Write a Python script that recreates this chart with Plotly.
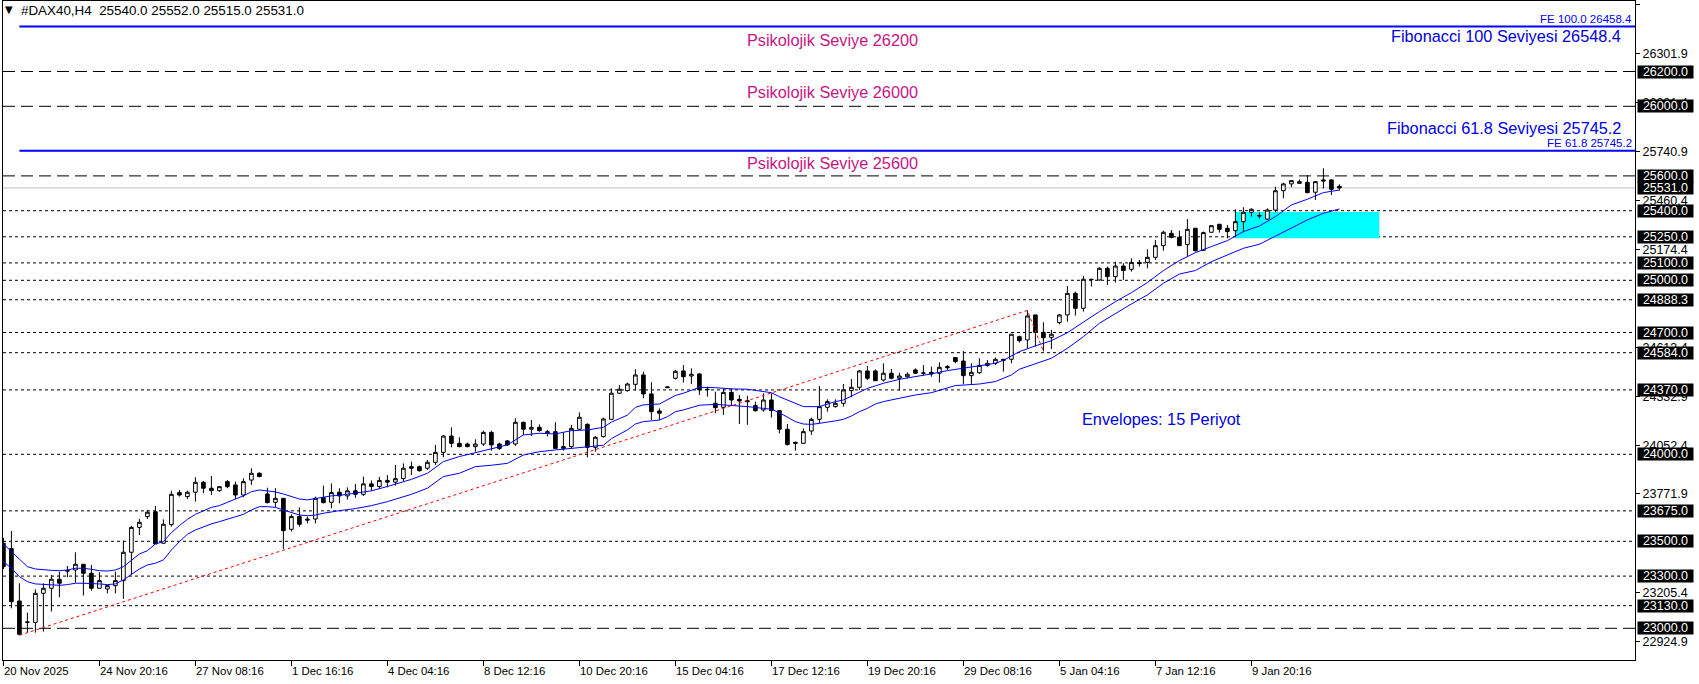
import plotly.graph_objects as go

# ---------------- data ----------------
bar_idx = list(range(168))
opens = [23489, 23458, 23157, 23034, 23034, 23201, 23230, 23282, 23328, 23335,
         23368, 23316, 23230, 23226, 23245, 23274, 23437, 23580, 23642, 23670,
         23489, 23596, 23780, 23757, 23782, 23839, 23805, 23791, 23843, 23824,
         23766, 23852, 23891, 23772, 23724, 23747, 23569, 23642, 23628, 23628,
         23751, 23724, 23782, 23761, 23790, 23770, 23830, 23815, 23850, 23840,
         23860, 23929, 23929, 23920, 23954, 24011, 24105, 24063, 24059, 24044,
         24059, 24126, 24059, 24077, 24059, 24184, 24144, 24155, 24121, 24130,
         24034, 24044, 24144, 24172, 24040, 24102, 24201, 24351, 24366, 24402,
         24456, 24347, 24249, 24383, 24437, 24479, 24450, 24462, 24374, 24293,
         24270, 24356, 24316, 24308, 24280, 24255, 24312, 24251, 24144, 24069,
         24063, 24134, 24201, 24270, 24274, 24293, 24366, 24385, 24479, 24479,
         24427, 24466, 24437, 24446, 24485, 24466, 24471, 24466, 24504, 24556,
         24536, 24452, 24469, 24510, 24523, 24546, 24546, 24676, 24657, 24801,
         24701, 24672, 24757, 24801, 24925, 24839, 25006, 25002, 25069, 25021,
         25082, 25063, 25103, 25103, 25132, 25199, 25270, 25247, 25205, 25299,
         25172, 25276, 25322, 25299, 25285, 25337, 25391, 25372, 25352, 25404,
         25515, 25554, 25557, 25563, 25506, 25577, 25577, 25540]
highs = [23520, 23559, 23259, 23090, 23224, 23259, 23307, 23326, 23358, 23437,
         23368, 23364, 23322, 23247, 23326, 23504, 23588, 23628, 23680, 23703,
         23626, 23791, 23795, 23791, 23868, 23847, 23875, 23818, 23852, 23843,
         23862, 23920, 23897, 23808, 23805, 23747, 23655, 23695, 23642, 23757,
         23820, 23833, 23805, 23810, 23830, 23872, 23850, 23870, 23880, 23939,
         23948, 23958, 23935, 23967, 24054, 24111, 24155, 24098, 24067, 24086,
         24136, 24136, 24067, 24082, 24207, 24188, 24197, 24172, 24140, 24184,
         24126, 24169, 24241, 24178, 24105, 24211, 24379, 24398, 24412, 24489,
         24475, 24414, 24264, 24390, 24485, 24513, 24494, 24465, 24389, 24360,
         24379, 24379, 24341, 24337, 24303, 24351, 24351, 24251, 24174, 24073,
         24149, 24211, 24393, 24316, 24316, 24404, 24433, 24485, 24508, 24488,
         24523, 24490, 24469, 24471, 24494, 24513, 24504, 24529, 24513, 24557,
         24594, 24523, 24552, 24542, 24557, 24548, 24690, 24682, 24827, 24801,
         24759, 24715, 24807, 24967, 24935, 25025, 25008, 25075, 25079, 25107,
         25098, 25126, 25117, 25178, 25232, 25285, 25289, 25285, 25352, 25299,
         25280, 25314, 25324, 25318, 25408, 25420, 25414, 25391, 25414, 25538,
         25561, 25573, 25580, 25605, 25571, 25644, 25580, 25552]
lows = [23340, 23115, 22960, 22975, 22975, 22981, 23096, 23178, 23293, 23262,
        23188, 23216, 23230, 23201, 23201, 23169, 23307, 23536, 23628, 23485,
        23485, 23584, 23757, 23743, 23728, 23776, 23766, 23785, 23805, 23743,
        23753, 23824, 23868, 23718, 23695, 23456, 23556, 23584, 23603, 23603,
        23718, 23690, 23718, 23740, 23750, 23760, 23790, 23800, 23810, 23820,
        23845, 23881, 23900, 23910, 23939, 23983, 24040, 24040, 24040, 24015,
        24048, 24021, 24025, 24048, 24048, 24111, 24105, 24130, 24102, 24034,
        24021, 24034, 24140, 23983, 24015, 24096, 24197, 24347, 24360, 24366,
        24322, 24197, 24197, 24380, 24430, 24412, 24404, 24341, 24331, 24236,
        24226, 24280, 24174, 24169, 24245, 24245, 24211, 24121, 24050, 24021,
        24059, 24111, 24178, 24245, 24268, 24274, 24328, 24370, 24427, 24423,
        24418, 24431, 24366, 24437, 24462, 24452, 24446, 24412, 24485, 24523,
        24402, 24402, 24462, 24504, 24513, 24475, 24523, 24642, 24609, 24619,
        24591, 24605, 24747, 24762, 24797, 24820, 24964, 24998, 24973, 24987,
        25002, 25050, 25079, 25069, 25117, 25170, 25241, 25199, 25136, 25165,
        25168, 25274, 25274, 25241, 25247, 25276, 25366, 25354, 25347, 25391,
        25471, 25535, 25557, 25500, 25462, 25527, 25490, 25515]
closes = [23354, 23153, 22966, 23036, 23201, 23230, 23282, 23259, 23332, 23368,
          23316, 23230, 23274, 23245, 23274, 23437, 23580, 23609, 23667, 23485,
          23598, 23770, 23766, 23782, 23839, 23805, 23791, 23814, 23814, 23766,
          23843, 23891, 23872, 23722, 23747, 23561, 23642, 23598, 23622, 23747,
          23722, 23780, 23761, 23790, 23770, 23830, 23815, 23850, 23840, 23860,
          23920, 23920, 23906, 23954, 24011, 24105, 24063, 24044, 24044, 24059,
          24126, 24054, 24034, 24054, 24184, 24144, 24155, 24136, 24130, 24034,
          24044, 24149, 24213, 24040, 24098, 24203, 24351, 24374, 24404, 24456,
          24347, 24245, 24236, 24387, 24477, 24446, 24460, 24370, 24372, 24268,
          24356, 24312, 24307, 24303, 24251, 24312, 24251, 24144, 24057, 24063,
          24130, 24201, 24274, 24303, 24293, 24370, 24385, 24479, 24437, 24423,
          24466, 24437, 24450, 24460, 24466, 24467, 24462, 24500, 24498, 24533,
          24452, 24471, 24511, 24523, 24546, 24540, 24690, 24653, 24795, 24701,
          24670, 24690, 24801, 24925, 24839, 25006, 25004, 25069, 25021, 25082,
          25056, 25103, 25096, 25132, 25199, 25276, 25247, 25199, 25293, 25170,
          25274, 25314, 25293, 25280, 25337, 25391, 25408, 25370, 25404, 25515,
          25554, 25573, 25567, 25504, 25567, 25571, 25523, 25531]

env_up_idx = [0, 1, 2, 3, 4, 5, 6, 7, 8, 9, 10, 11, 12, 13, 14, 15, 16, 17, 18, 19,
              20, 21, 22, 23, 24, 25, 26, 27, 28, 29, 30, 31, 32, 33, 34, 35, 36, 37, 38, 39,
              40, 41, 42, 44, 46, 48, 51, 53, 55, 57, 59, 61, 63, 65, 67, 69, 71, 73, 75, 76,
              78, 79, 80, 82, 83, 84, 85, 87, 89, 91, 93, 95, 96, 97, 98, 99, 100, 102, 103, 104,
              105, 106, 107, 108, 109, 110, 112, 114, 116, 118, 120, 122, 124, 125, 127, 129, 131, 133, 135, 137,
              139, 141, 143, 145, 147, 149, 151, 153, 155, 157, 159, 161, 163, 165, 167]
env_upper = [23485, 23441, 23393, 23354, 23341, 23335, 23333, 23331, 23335, 23345,
             23345, 23339, 23331, 23329, 23335, 23354, 23393, 23427, 23446, 23485,
             23498, 23550, 23590, 23626, 23655, 23676, 23695, 23705, 23722, 23743,
             23761, 23785, 23795, 23791, 23784, 23772, 23757, 23743, 23738, 23747,
             23753, 23761, 23764, 23775, 23790, 23815, 23856, 23891, 23958, 23987,
             24010, 24034, 24054, 24111, 24121, 24117, 24136, 24140, 24155, 24185,
             24225, 24270, 24284, 24289, 24312, 24338, 24351, 24385, 24383, 24376,
             24374, 24360, 24354, 24331, 24312, 24289, 24274, 24274, 24289, 24303,
             24312, 24335, 24360, 24379, 24393, 24408, 24431, 24446, 24462, 24481,
             24494, 24508, 24523, 24540, 24590, 24623, 24653, 24699, 24762, 24820,
             24877, 24929, 24987, 25056, 25113, 25159, 25194, 25228, 25280, 25312,
             25366, 25433, 25466, 25504, 25519]
env_lo_idx = [0, 1, 2, 3, 4, 5, 6, 7, 8, 9, 10, 11, 12, 13, 14, 15, 16, 17, 18, 19,
              20, 21, 22, 23, 24, 25, 26, 27, 28, 29, 30, 31, 32, 33, 34, 35, 36, 37, 38, 39,
              40, 41, 42, 44, 46, 48, 51, 53, 55, 57, 59, 61, 63, 65, 67, 69, 71, 73, 75, 76,
              78, 79, 80, 81, 82, 83, 84, 85, 87, 89, 91, 93, 95, 96, 97, 98, 99, 100, 101, 102,
              103, 104, 105, 106, 107, 108, 109, 110, 112, 114, 116, 118, 119, 120, 122, 124, 126, 127, 129, 131,
              133, 135, 137, 139, 141, 143, 145, 147, 149, 151, 153, 155, 157, 159, 161, 163, 165, 167]
env_lower = [23383, 23345, 23297, 23268, 23255, 23253, 23251, 23247, 23251, 23259,
             23259, 23259, 23255, 23251, 23255, 23278, 23312, 23341, 23364, 23374,
             23393, 23450, 23498, 23540, 23565, 23584, 23600, 23613, 23628, 23642,
             23655, 23680, 23699, 23699, 23695, 23680, 23665, 23651, 23647, 23651,
             23661, 23670, 23676, 23688, 23705, 23728, 23770, 23805, 23872, 23891,
             23929, 23937, 23948, 23996, 24015, 24025, 24034, 24044, 24052, 24090,
             24140, 24174, 24188, 24192, 24197, 24216, 24245, 24255, 24282, 24287,
             24282, 24274, 24264, 24259, 24239, 24213, 24188, 24174, 24172, 24178,
             24184, 24192, 24201, 24220, 24245, 24264, 24289, 24303, 24322, 24341,
             24354, 24379, 24395, 24398, 24404, 24418, 24456, 24489, 24519, 24552,
             24609, 24676, 24753, 24810, 24864, 24916, 24983, 25036, 25056, 25107,
             25146, 25184, 25207, 25255, 25299, 25347, 25385, 25410]

tick_bars = [0, 12, 24, 36, 48, 60, 72, 84, 96, 108, 120, 132, 144, 156]
tick_labels = ["20 Nov 2025", "24 Nov 20:16", "27 Nov 08:16", "1 Dec 16:16",
               "4 Dec 04:16", "8 Dec 12:16", "10 Dec 20:16", "15 Dec 04:16",
               "17 Dec 12:16", "19 Dec 20:16", "29 Dec 08:16", "5 Jan 04:16",
               "7 Jan 12:16", "9 Jan 20:16"]
# scale ticks that are visible (fully or partly) beside the level boxes
y_grid_ticks = [26582.4, 26301.9, 26021.4, 25740.9, 25460.4, 25174.4,
                24613.4, 24332.9, 24052.4, 23771.9, 23205.4, 22924.9]

psych_levels = [26200, 26000, 25600, 23000]
support_levels = [25400, 25250, 25100, 25000, 24888.3, 24700, 24584, 24370,
                  24000, 23675, 23500, 23300, 23130]
bid_price = 25531.0
fe_idx = [2, 128, 130]
fe_price = [22960, 24827, 24591.4]
fe_levels = [26458.4, 25745.2]
fe_names = ["FE 100.0", "FE 61.8"]
zone_idx = [154, 172]
zone_price = [25241, 25392]
header = "#DAX40,H4  25540.0 25552.0 25515.0 25531.0"

# ---------------- figure ----------------
FONT = "Liberation Sans, Arial, sans-serif"
X_MAX = 204
Y_MIN, Y_MAX = 22817.8, 26605.2

fig = go.Figure()

fig.add_trace(go.Scatter(x=env_up_idx, y=env_upper, mode="lines",
                         line=dict(color="#0000FF", width=1), hoverinfo="skip"))
fig.add_trace(go.Scatter(x=env_lo_idx, y=env_lower, mode="lines",
                         line=dict(color="#0000FF", width=1), hoverinfo="skip"))
fig.add_trace(go.Scatter(x=fe_idx, y=fe_price, mode="lines",
                         line=dict(color="#FF0000", width=1, dash="dot"), hoverinfo="skip"))
fig.add_trace(go.Candlestick(
    x=bar_idx, open=opens, high=highs, low=lows, close=closes,
    increasing=dict(line=dict(color="black", width=1), fillcolor="white"),
    decreasing=dict(line=dict(color="black", width=1), fillcolor="black"),
    whiskerwidth=0, hoverinfo="skip"))

shapes = []
shapes.append(dict(type="rect", xref="x", yref="y", x0=zone_idx[0], x1=zone_idx[1],
                   y0=zone_price[0], y1=zone_price[1], fillcolor="#00FFFF",
                   line=dict(width=0), layer="below"))
for v in psych_levels:
    shapes.append(dict(type="line", xref="paper", yref="y", x0=0, x1=1, y0=v, y1=v,
                       line=dict(color="black", width=1, dash="12px,6px"), layer="below"))
for v in support_levels:
    shapes.append(dict(type="line", xref="paper", yref="y", x0=0, x1=1, y0=v, y1=v,
                       line=dict(color="black", width=1, dash="3px,3px"), layer="below"))
shapes.append(dict(type="line", xref="paper", yref="y", x0=0, x1=1, y0=bid_price, y1=bid_price,
                   line=dict(color="#C0C0C0", width=1), layer="below"))
for v in fe_levels:
    shapes.append(dict(type="line", xref="x", yref="y", x0=fe_idx[0], x1=X_MAX, y0=v, y1=v,
                       line=dict(color="#0000FF", width=2)))

ann = []
# price boxes on the right axis
for v in psych_levels + support_levels + [bid_price]:
    ann.append(dict(xref="paper", x=1, xanchor="left", xshift=1.5, yref="y", y=v,
                    yanchor="middle", text=f"{v:.1f}", showarrow=False, bgcolor="black",
                    font=dict(color="white", size=12.5, family=FONT), borderpad=0,
                    width=55, height=12, align="center"))
# time labels
for b, t in zip(tick_bars, tick_labels):
    ann.append(dict(xref="x", x=b, xanchor="left", yref="paper", y=0, yanchor="top",
                    yshift=-4, text=t, showarrow=False, borderpad=0,
                    font=dict(color="black", size=11.4, family=FONT)))
# header
ann.append(dict(xref="paper", x=0, xanchor="left", xshift=1, yref="paper", y=1, yanchor="top",
                yshift=-2, text="▼", showarrow=False, borderpad=0,
                font=dict(color="black", size=10, family="DejaVu Sans")))
ann.append(dict(xref="paper", x=0, xanchor="left", xshift=17, yref="paper", y=1, yanchor="top",
                yshift=-1, text=header, showarrow=False, borderpad=0,
                font=dict(color="black", size=13.4, family=FONT)))
# psychological level captions
PINK = "#C71585"
for txt, yp in [("Psikolojik Seviye 26200", 0.9408), ("Psikolojik Seviye 26000", 0.8619),
                ("Psikolojik Seviye 25600", 0.7549)]:
    ann.append(dict(xref="paper", x=0.508, xanchor="center", yref="paper", y=yp,
                    yanchor="middle", text=txt, showarrow=False,
                    font=dict(color=PINK, size=16.3, family=FONT)))
BLUE = "#0000E0"
ann.append(dict(xref="paper", x=0.9926, xanchor="right", yref="paper", y=0.9472, yanchor="middle",
                text="Fibonacci 100 Seviyesi 26548.4", showarrow=False,
                font=dict(color=BLUE, size=16.3, family=FONT)))
ann.append(dict(xref="paper", x=0.9926, xanchor="right", yref="paper", y=0.8074, yanchor="middle",
                text="Fibonacci 61.8 Seviyesi 25745.2", showarrow=False,
                font=dict(color=BLUE, size=16.3, family=FONT)))
ann.append(dict(xref="paper", x=0.7099, xanchor="center", yref="paper", y=0.3657, yanchor="middle",
                text="Envelopes: 15 Periyot", showarrow=False,
                font=dict(color=BLUE, size=16.3, family=FONT)))
for name, v in zip(fe_names, fe_levels):
    ann.append(dict(xref="paper", x=0.9985, xanchor="right", yref="y", y=v, yanchor="bottom",
                    yshift=1, text=f"{name} {v:.1f}", showarrow=False, borderpad=0,
                    font=dict(color="#0000FF", size=11.5, family=FONT)))

fig.update_layout(
    width=1699, height=684,
    margin=dict(l=3, r=64, t=1, b=24, pad=0),
    paper_bgcolor="white", plot_bgcolor="white",
    showlegend=False, boxgap=0.35,
    shapes=shapes, annotations=ann,
    xaxis=dict(range=[-0.05, X_MAX - 0.05], showgrid=False, zeroline=False,
               rangeslider=dict(visible=False), tickvals=tick_bars, showticklabels=False,
               ticks="outside", ticklen=5, tickcolor="black", showline=True,
               linecolor="black", linewidth=1, mirror=True),
    yaxis=dict(range=[Y_MIN, Y_MAX], side="right", showgrid=False, zeroline=False,
               tickvals=y_grid_ticks, ticktext=[f"{v:.1f}" for v in y_grid_ticks],
               ticks="outside", ticklen=4, tickcolor="black",
               tickfont=dict(color="black", size=12.5, family=FONT),
               showline=True, linecolor="black", linewidth=1, mirror=True),
)

fig.write_html("out.html", config={"displayModeBar": False},
               post_script="document.body.style.margin='0';")
